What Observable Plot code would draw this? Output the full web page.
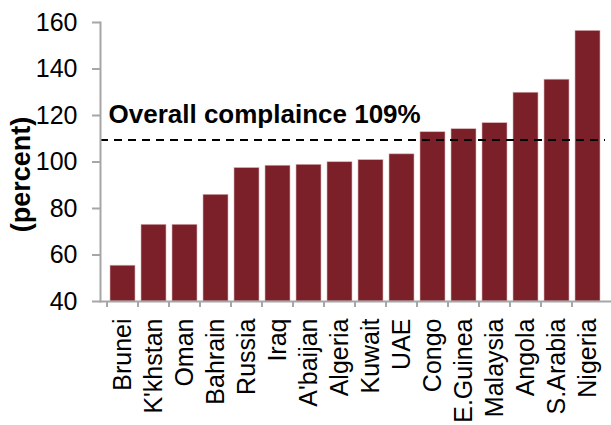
<!DOCTYPE html>
<html>
<head>
<meta charset="utf-8">
<script src="https://cdn.jsdelivr.net/npm/d3@7"></script>
<script src="https://cdn.jsdelivr.net/npm/@observablehq/plot@0.6"></script>
<style>
  html, body { margin: 0; padding: 0; background: #fff; }
  svg { display: block; }
</style>
</head>
<body>
<div id="chart"></div>
<script>
const countries = ["Brunei", "K'khstan", "Oman", "Bahrain", "Russia", "Iraq", "A'baijan", "Algeria", "Kuwait", "UAE", "Congo", "E.Guinea", "Malaysia", "Angola", "S.Arabia", "Nigeria"];
const compliance = [55.4, 73, 73, 85.9, 97.4, 98.4, 98.8, 99.9, 100.8, 103.3, 112.8, 114.1, 116.7, 129.8, 135.4, 156.4];
const yTicks = [40, 60, 80, 100, 120, 140, 160];
const overall = 109.5;
const overallLabel = "Overall complaince 109%";
const yLabel = "(percent)";
const yLabelAt = 94.6;

const data = countries.map((c, i) => ({country: c, value: compliance[i]}));
const font = "'Liberation Sans', Arial, sans-serif";
const axisGray = "#a6a6a6";
const barColor = "#7b2029";

const chart = Plot.plot({
  width: 611,
  height: 425,
  marginLeft: 100,
  marginRight: 0,
  marginTop: 22,
  marginBottom: 124,
  style: {fontFamily: font, color: "#000", background: "#fff"},
  x: {domain: countries, padding: 0.18, label: null},
  y: {domain: [40, 160], label: null},
  marks: [
    Plot.barY(data, {x: "country", y1: 40, y2: "value", fill: barColor, stroke: "#d9b3b6", strokeWidth: 0.6}),
    Plot.ruleY([overall], {stroke: "#000", strokeWidth: 2, strokeDasharray: "8,6", insetRight: 6}),
    Plot.text([overallLabel], {frameAnchor: "left", y: [overall], text: d => d, dx: 8, dy: -25.6, textAnchor: "start", lineAnchor: "middle", fontSize: 26, fontWeight: "bold", fill: "#000"}),
    Plot.frame({anchor: "left", stroke: axisGray, strokeWidth: 2}),
    Plot.frame({anchor: "bottom", stroke: axisGray, strokeWidth: 2}),
    Plot.axisY({ticks: yTicks, tickSize: 8, text: null, stroke: axisGray, strokeWidth: 2, label: null}),
    Plot.axisY({ticks: yTicks, tickSize: 0, tickPadding: 0, dx: -23, fontSize: 25, fill: "#000", label: null}),
    Plot.axisX({tickSize: 6, text: null, dx: -15.97, stroke: axisGray, strokeWidth: 2, label: null}),
    Plot.axisX({tickSize: 0, tickRotate: -90, tickPadding: 17, fontSize: 25, fill: "#000", label: null}),
    Plot.text([yLabel], {frameAnchor: "left", y: [yLabelAt], text: d => d, dx: -79, rotate: -90, textAnchor: "middle", lineAnchor: "middle", fontSize: 27, fontWeight: "bold", fill: "#000"})
  ]
});
document.getElementById("chart").appendChild(chart);
</script>
</body>
</html>
